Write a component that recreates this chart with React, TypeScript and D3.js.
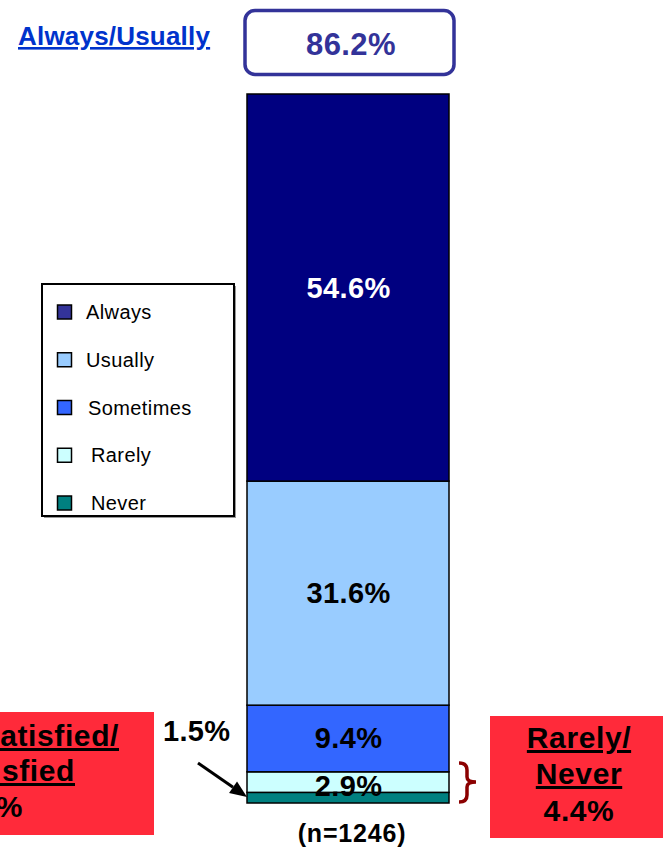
import React from "react";
import * as d3 from "d3";

const categories = ["Always", "Usually", "Sometimes", "Rarely", "Never"];
const values = [54.6, 31.6, 9.4, 2.9, 1.5];
const barColors = ["#000080", "#99CCFF", "#3366FF", "#CCFFFF", "#008080"];
const legendColors = ["#333399", "#99CCFF", "#3366FF", "#CCFFFF", "#008080"];
const labelColors = ["#ffffff", "#000000", "#000000", "#000000", "#000000"];
const topSummaryLabel = "Always/Usually";
const topSummaryValue = "86.2%";
const rightBoxLines = ["Rarely/", "Never", "4.4%"];
const leftBoxLines = ["Very Dissatisfied/", "Dissatisfied", "%"];
const neverCallout = "1.5%";
const sampleLabel = "(n=1246)";

const FONT = "'Liberation Sans', Arial, Helvetica, sans-serif";

export default function App() {
  const W = 663;
  const H = 851;
  const x = d3.scaleBand().domain(["bar"]).range([247, 449]).padding(0);
  const y = d3.scaleLinear().domain([0, 100]).range([803, 94]);

  // stack from bottom (Never) upward
  const rows: { cat: string; y0: number; y1: number; i: number }[] = [];
  let acc = 0;
  for (let i = categories.length - 1; i >= 0; i--) {
    rows.push({ cat: categories[i], y0: acc, y1: acc + values[i], i });
    acc += values[i];
  }

  const bx = x("bar") as number;
  const bw = x.bandwidth();

  const legendY = d3.scalePoint().domain(categories).range([312, 503]);

  const tipX = 247, tipY = 797;
  const startX = 198, startY = 763;
  const ang = Math.atan2(tipY - startY, tipX - startX);
  const hl = 17, hw = 7;
  const baseX = tipX - hl * Math.cos(ang), baseY = tipY - hl * Math.sin(ang);
  const head = [
    [tipX, tipY],
    [baseX + hw * Math.sin(ang), baseY - hw * Math.cos(ang)],
    [baseX - hw * Math.sin(ang), baseY + hw * Math.cos(ang)],
  ];

  return (
    <svg
      width={W}
      height={H}
      style={{ position: "absolute", left: 0, top: 0, background: "#fff" }}
      fontFamily={FONT}
    >
      <rect x={0} y={0} width={W} height={H} fill="#fff" />

      {/* Top summary */}
      <text x={18} y={45} fontSize={26} fontWeight="bold" fill="#0033CC" letterSpacing={0.2} textDecoration="underline">
        {topSummaryLabel}
      </text>
      <rect x={245} y={10.5} width={209} height={64} rx={10} fill="#fff" stroke="#333399" strokeWidth={3.5} />
      <text x={351} y={55} fontSize={31} fontWeight="bold" fill="#333399" letterSpacing={0.4} textAnchor="middle">
        {topSummaryValue}
      </text>

      {/* Stacked bar */}
      {rows.map((r) => (
        <rect
          key={r.cat}
          x={bx}
          y={y(r.y1)}
          width={bw}
          height={y(r.y0) - y(r.y1)}
          fill={barColors[r.i]}
          stroke="#000"
          strokeWidth={1.5}
        />
      ))}
      {rows
        .filter((r) => r.cat !== "Never")
        .map((r) => (
          <text
            key={"l" + r.cat}
            x={bx + bw / 2 + 0.5}
            y={(y(r.y0) + y(r.y1)) / 2 + (r.cat === "Rarely" ? 14 : 10)}
            fontSize={29}
            fontWeight="bold"
            letterSpacing={0.4}
            textAnchor="middle"
            fill={labelColors[r.i]}
          >
            {values[r.i].toFixed(1)}%
          </text>
        ))}
      <text x={352} y={842} fontSize={25} fontWeight="bold" letterSpacing={0.8} textAnchor="middle" fill="#000">
        {sampleLabel}
      </text>

      {/* Legend */}
      <rect x={44} y={286} width={192} height={232} fill="#999" />
      <rect x={42} y={284} width={192} height={232} fill="#fff" stroke="#000" strokeWidth={2} />
      {categories.map((c, i) => (
        <g key={"lg" + c}>
          <rect
            x={57.5}
            y={(legendY(c) as number) - 7}
            width={14}
            height={14}
            fill={legendColors[i]}
            stroke="#000"
            strokeWidth={1.5}
          />
          <text x={[86, 86, 88, 91, 91][i]} y={(legendY(c) as number) + 7} fontSize={20} letterSpacing={0.4} fill="#000">
            {c}
          </text>
        </g>
      ))}

      {/* Left red box (clipped at page edge) */}
      <rect x={-20} y={712} width={174} height={123} fill="#FF2A3A" />
      {leftBoxLines.map((t, i) => (
        <text
          key={"lb" + i}
          x={[119, 75, 23][i]}
          y={[746, 781, 817][i]}
          fontSize={30}
          fontWeight="bold"
          letterSpacing={0.6}
          textAnchor="end"
          fill="#000"
          textDecoration={i < 2 ? "underline" : undefined}
        >
          {t}
        </text>
      ))}

      {/* 1.5% callout */}
      <text x={163} y={741} fontSize={29} fontWeight="bold" letterSpacing={0.3} fill="#000">
        {neverCallout}
      </text>
      <line x1={startX} y1={startY} x2={baseX} y2={baseY} stroke="#000" strokeWidth={3} />
      <polygon points={head.map((p) => p.join(",")).join(" ")} fill="#000" />

      {/* Brace */}
      <path
        d="M459,763 Q467,763 467,770 L467,777 Q467,782 476,782 Q467,782 467,787 L467,795 Q467,802 459,802"
        fill="none"
        stroke="#8B0000"
        strokeWidth={3.5}
      />

      {/* Right red box */}
      <rect x={490} y={716} width={180} height={122} fill="#FF2A3A" />
      {rightBoxLines.map((t, i) => (
        <text
          key={"rb" + i}
          x={579}
          y={[748, 784, 821][i]}
          fontSize={30}
          fontWeight="bold"
          letterSpacing={0.6}
          textAnchor="middle"
          fill="#000"
          textDecoration={i < 2 ? "underline" : undefined}
        >
          {t}
        </text>
      ))}
    </svg>
  );
}
